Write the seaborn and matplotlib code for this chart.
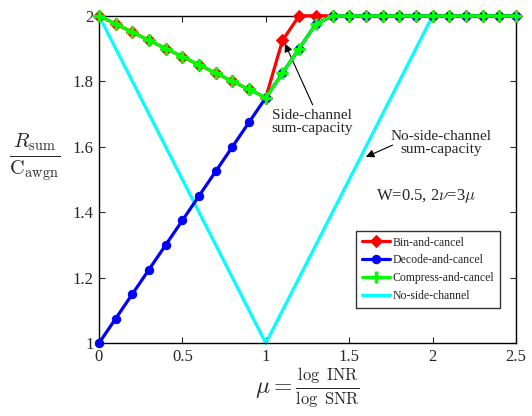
import matplotlib
matplotlib.use("Agg")
import matplotlib.pyplot as plt
import seaborn as sns
import pandas as pd
from matplotlib.ticker import FuncFormatter

mu = [0.0, 0.1, 0.2, 0.3, 0.4, 0.5, 0.6, 0.7, 0.8, 0.9, 1.0, 1.1, 1.2,
      1.3, 1.4, 1.5, 1.6, 1.7, 1.8, 1.9, 2.0, 2.1, 2.2, 2.3, 2.4, 2.5]
bin_cancel = [2.0, 1.975, 1.95, 1.925, 1.9, 1.875, 1.85, 1.825, 1.8, 1.775,
              1.75, 1.925, 2.0, 2.0, 2.0, 2.0, 2.0, 2.0, 2.0, 2.0, 2.0, 2.0,
              2.0, 2.0, 2.0, 2.0]
decode_cancel = [1.0, 1.075, 1.15, 1.225, 1.3, 1.375, 1.45, 1.525, 1.6, 1.675,
                 1.75, 1.825, 1.9, 1.975, 2.0, 2.0, 2.0, 2.0, 2.0, 2.0, 2.0,
                 2.0, 2.0, 2.0, 2.0, 2.0]
compress_cancel = [2.0, 1.975, 1.95, 1.925, 1.9, 1.875, 1.85, 1.825, 1.8, 1.775,
                   1.75, 1.825, 1.9, 1.975, 2.0, 2.0, 2.0, 2.0, 2.0, 2.0, 2.0,
                   2.0, 2.0, 2.0, 2.0, 2.0]
mu_noside = [0.0, 1.0, 2.0, 2.5]
no_side = [2.0, 1.0, 2.0, 2.0]

labels = ["Bin-and-cancel", "Decode-and-cancel", "Compress-and-cancel", "No-side-channel"]

sns.set_style("ticks")
plt.rcParams["font.family"] = ["Liberation Serif", "DejaVu Serif"]
plt.rcParams["mathtext.fontset"] = "cm"

fig = plt.figure(figsize=(5.32, 4.16), dpi=100)
ax = fig.add_axes([0.186, 0.175, 0.784, 0.787])

lw = 2.3
sns.lineplot(x=mu, y=bin_cancel, ax=ax, color="#FF0000", lw=lw, marker="D",
             markersize=6.5, markeredgecolor="#FF0000", label=labels[0],
             clip_on=False, zorder=3)
sns.lineplot(x=mu, y=decode_cancel, ax=ax, color="#0000FF", lw=lw, marker="o",
             markersize=6, markeredgecolor="#0000FF", label=labels[1],
             clip_on=False, zorder=4)
sns.lineplot(x=mu, y=compress_cancel, ax=ax, color="#00FF00", lw=lw, marker="+",
             markersize=9, markeredgecolor="#00FF00", markeredgewidth=2.5,
             label=labels[2], clip_on=False, zorder=5)
sns.lineplot(x=mu_noside, y=no_side, ax=ax, color="#00FFFF", lw=lw,
             label=labels[3], clip_on=False, zorder=2)

ax.set_xlim(0, 2.5)
ax.set_ylim(1, 2)
ax.set_xticks([0, 0.5, 1, 1.5, 2, 2.5])
ax.set_yticks([1, 1.2, 1.4, 1.6, 1.8, 2])
fmt = FuncFormatter(lambda v, p: "%g" % v)
ax.xaxis.set_major_formatter(fmt)
ax.yaxis.set_major_formatter(fmt)
ax.tick_params(direction="in", top=True, right=True, labelsize=12, length=4,
               width=0.8, pad=4)
for s in ax.spines.values():
    s.set_linewidth(1.0)
    s.set_color("black")

ax.set_xlabel(r"$\mu = \frac{\log\ \mathrm{INR}}{\log\ \mathrm{SNR}}$", fontsize=17,
              labelpad=1)
ax.set_ylabel(r"$\frac{R_{\mathrm{sum}}}{\mathrm{C_{awgn}}}$", fontsize=21,
              rotation=0, va="center", ha="center")
ax.yaxis.set_label_coords(-0.153, 0.57)

arrow = dict(arrowstyle="-|>", color="black", lw=0.8, mutation_scale=12,
             shrinkA=0, shrinkB=0)
ax.text(1.275, 1.675, "Side-channel\nsum-capacity", ha="center", va="center",
        fontsize=11, linespacing=1.0)
ax.annotate("", xy=(1.115, 1.915), xytext=(1.281, 1.728), arrowprops=arrow)
ax.text(2.05, 1.61, "No-side-channel\nsum-capacity", ha="center", va="center",
        fontsize=11, linespacing=1.0)
ax.annotate("", xy=(1.60, 1.569), xytext=(1.76, 1.605), arrowprops=arrow)
ax.text(1.96, 1.45, r"W=0.5, 2$\nu$=3$\mu$", ha="center", va="center", fontsize=12)

leg = ax.legend(loc="lower right", bbox_to_anchor=(0.962, 0.107), fontsize=8.5,
                frameon=True, fancybox=False, edgecolor="black", numpoints=1,
                handlelength=2.4, handletextpad=0.2, borderpad=0.5,
                labelspacing=0.5, borderaxespad=0)
leg.get_frame().set_linewidth(1.0)

fig.savefig("out.png", dpi=100)
